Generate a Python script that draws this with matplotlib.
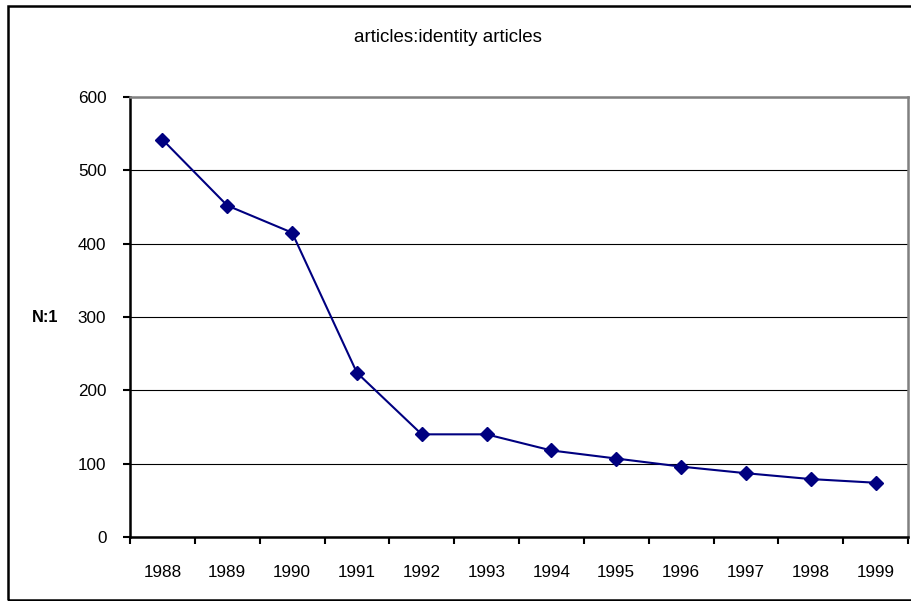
import matplotlib
matplotlib.use("Agg")
import matplotlib.pyplot as plt
from matplotlib.patches import Rectangle

#%% Data
years = ['1988', '1989', '1990', '1991', '1992', '1993',
         '1994', '1995', '1996', '1997', '1998', '1999']
ratio = [542, 452, 415, 224, 140, 140, 118, 107, 96, 87, 79, 74]
yticks = [0, 100, 200, 300, 400, 500, 600]

plt.rcParams['font.family'] = ['Liberation Sans', 'DejaVu Sans']

#%% Plot
fig = plt.figure(figsize=(9.12, 6.01), dpi=100)
ax = fig.add_axes([130 / 912, 1 - 537 / 601, 778 / 912, 440 / 601])

xpos = [i + 0.5 for i in range(len(years))]
ax.plot(xpos, ratio, color='#000080', linewidth=1.5, marker='D',
        markersize=7, markerfacecolor='#000080', markeredgecolor='#000080',
        zorder=3)

ax.set_xlim(0, len(years))
ax.set_ylim(0, 600)
ax.set_yticks(yticks)
ax.set_xticks(range(len(years) + 1))
ax.set_xticklabels([])
ax.set_xticks(xpos, minor=True)
ax.set_xticklabels(years, minor=True)
ax.tick_params(axis='x', which='minor', length=0, pad=20, labelsize=12.3)
ax.tick_params(axis='x', which='major', length=5, width=1.5, direction='out')
ax.tick_params(axis='y', length=5, width=1.5, direction='out', pad=12,
               labelsize=12.3)
ax.yaxis.grid(True, color='black', linewidth=0.8)
ax.set_axisbelow(True)

for s in ['left', 'bottom']:
    ax.spines[s].set_color('black')
    ax.spines[s].set_linewidth(1.8)
for s in ['top', 'right']:
    ax.spines[s].set_color('#808080')
    ax.spines[s].set_linewidth(1.8)

fig.text(448 / 912, 1 - 38 / 601, 'articles:identity articles',
         ha='center', va='center', fontsize=13.5)
fig.text(45 / 912, 1 - 318 / 601, 'N:1', ha='center', va='center',
         fontsize=11.8, fontweight='bold')

# outer chart border
fig.patches.append(Rectangle((8 / 912, 1 / 601), 1.0, 594 / 601,
                             transform=fig.transFigure, fill=False,
                             edgecolor='black', linewidth=1.8))

fig.savefig('out.png', dpi=100)
